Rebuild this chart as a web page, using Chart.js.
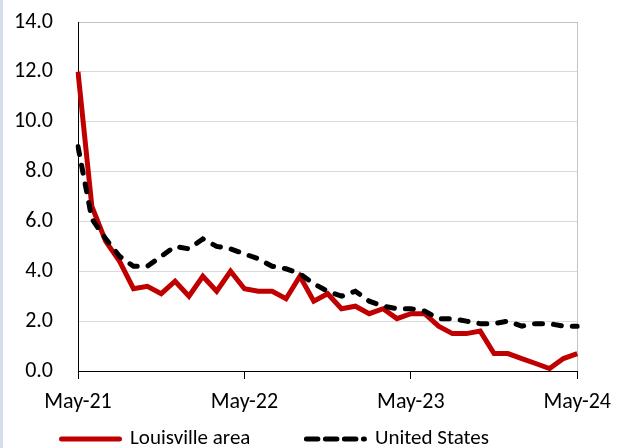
<!DOCTYPE html>
<html><head><meta charset="utf-8">
<script src="https://cdn.jsdelivr.net/npm/chart.js@4"></script>
<style>
html,body{margin:0;padding:0;background:#fff;}
#wrap{position:relative;width:621px;height:448px;overflow:hidden;}
#edge{position:absolute;left:0;top:0;width:3px;height:448px;background:#d3dff0;}
canvas{display:block;}
</style></head><body>
<div id="wrap"><canvas id="c" width="621" height="448"></canvas><div id="edge"></div></div>
<script>
const months = ["May-21","Jun-21","Jul-21","Aug-21","Sep-21","Oct-21","Nov-21","Dec-21",
  "Jan-22","Feb-22","Mar-22","Apr-22","May-22","Jun-22","Jul-22","Aug-22","Sep-22","Oct-22","Nov-22","Dec-22",
  "Jan-23","Feb-23","Mar-23","Apr-23","May-23","Jun-23","Jul-23","Aug-23","Sep-23","Oct-23","Nov-23","Dec-23",
  "Jan-24","Feb-24","Mar-24","Apr-24","May-24"];
const louisville = [12.0, 6.6, 5.2, 4.4, 3.3, 3.4, 3.1, 3.6, 3.0, 3.8, 3.2, 4.0, 3.3, 3.2, 3.2, 2.9, 3.8, 2.8, 3.1, 2.5, 2.6, 2.3, 2.5, 2.1, 2.3, 2.3, 1.8, 1.5, 1.5, 1.6, 0.7, 0.7, 0.5, 0.3, 0.1, 0.5, 0.7];
const unitedStates = [9.0, 6.1, 5.3, 4.6, 4.2, 4.2, 4.6, 5.0, 4.9, 5.3, 5.0, 4.9, 4.7, 4.5, 4.2, 4.1, 3.9, 3.5, 3.2, 3.0, 3.2, 2.8, 2.6, 2.5, 2.5, 2.4, 2.1, 2.1, 2.0, 1.9, 1.9, 2.0, 1.8, 1.9, 1.9, 1.8, 1.8];
const seriesNames = ["Louisville area", "United States"];
const yMin = 0, yMax = 14, yStep = 2;
const xLabelEvery = 12;

const FONT = "Carlito, Lato, sans-serif";
Chart.defaults.font.family = FONT;
Chart.defaults.font.size = 21;
Chart.defaults.color = '#000';

const PAD_LEFT = 5.5;
const LEGEND_PAD = 56;
const LEGEND_DASH = [11.5, 7.5];

const legendPlacer = {
  id: 'legendPlacer',
  beforeLayout(chart) {
    const lg = chart.legend;
    if (lg && !lg.__patched) {
      const orig = lg.fit;
      lg.fit = function() { orig.call(this); this.height = 27; };
      lg.__patched = true;
    }
  },
  afterLayout(chart) {
    const lg = chart.legend;
    if (lg) { lg.top = 439 - LEGEND_PAD - 10.5; lg.bottom = chart.height; lg.height = lg.bottom - lg.top; }
  }
};

new Chart(document.getElementById('c'), {
  type: 'line',
  data: {
    labels: months,
    datasets: [
      {label: seriesNames[0], data: louisville, borderColor: '#C00000', backgroundColor: '#C00000',
       borderWidth: 5, pointRadius: 0, tension: 0, order: 1},
      {label: seriesNames[1], data: unitedStates, borderColor: '#000000', backgroundColor: '#000000',
       borderWidth: 5, borderDash: [8, 11], borderCapStyle: 'round', pointRadius: 0, tension: 0, order: 0}
    ]
  },
  plugins: [legendPlacer],
  options: {
    responsive: false, animation: false, devicePixelRatio: 1,
    layout: {padding: {left: PAD_LEFT, right: 40, top: 22, bottom: 0}},
    plugins: {
      tooltip: {enabled: false},
      legend: {
        position: 'bottom', align: 'start',
        labels: {
          usePointStyle: true, pointStyle: 'line', pointStyleWidth: 58, padding: LEGEND_PAD,
          color: '#000', font: {size: 21},
          sort: (a, b) => a.datasetIndex - b.datasetIndex,
          generateLabels: (chart) => Chart.defaults.plugins.legend.labels.generateLabels(chart)
            .map(l => {
              const ds = chart.data.datasets[l.datasetIndex];
              return Object.assign(l, {lineCap: 'round', pointStyle: 'line', lineWidth: 5,
                lineDash: ds.borderDash ? LEGEND_DASH : []});
            })
        }
      }
    },
    scales: {
      x: {
        type: 'category', offset: false,
        afterBuildTicks: s => { s.ticks = s.ticks.filter(t => t.value % xLabelEvery === 0); },
        afterFit: s => { s.height = 50; },
        ticks: {autoSkip: false, maxRotation: 0, padding: 10, color: '#000', font: {size: 22}},
        grid: {color: c => (c.tick && c.tick.value === months.length - 1) ? '#c4c4c4' : 'rgba(0,0,0,0)',
               tickColor: '#000', tickLength: 8, lineWidth: 1},
        border: {color: '#000', width: 1}
      },
      y: {
        min: yMin, max: yMax,
        afterFit: s => { s.width = 78 - PAD_LEFT; },
        ticks: {stepSize: yStep, padding: 0, color: '#000', font: {size: 22}, callback: v => v.toFixed(1)},
        grid: {color: c => (c.tick && c.tick.value === yMax) ? '#c4c4c4' : '#d9d9d9',
               drawTicks: true, tickLength: 25, tickColor: 'rgba(0,0,0,0)', lineWidth: 1},
        border: {color: '#000', width: 1}
      }
    }
  }
});
</script>
</body></html>
